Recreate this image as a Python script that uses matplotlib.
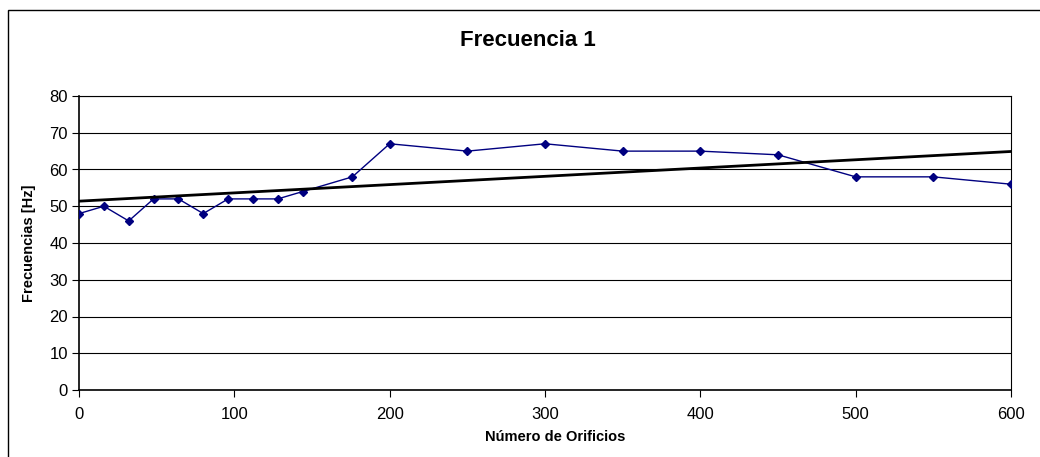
import numpy as np
import matplotlib.pyplot as plt
from matplotlib.patches import Rectangle

plt.rcParams['font.family'] = ['Liberation Sans', 'DejaVu Sans']

orificios = [0, 16, 32, 48, 64, 80, 96, 112, 128, 144, 176, 200,
             250, 300, 350, 400, 450, 500, 550, 600]
frecuencias = [48, 50, 46, 52, 52, 48, 52, 52, 52, 54, 58, 67,
               65, 67, 65, 65, 64, 58, 58, 56]
xticks = [0, 100, 200, 300, 400, 500, 600]
yticks = [0, 10, 20, 30, 40, 50, 60, 70, 80]

fig = plt.figure(figsize=(10.4, 4.57), dpi=100)
# outer chart border (Excel style)
fig.patches.append(Rectangle((8 / 1040, -0.1), 1.2, (457 - 10) / 457 + 0.1,
                             transform=fig.transFigure, fill=False,
                             edgecolor='black', linewidth=1.0))

ax = fig.add_axes([79 / 1040, 1 - 390 / 457, (1011 - 79) / 1040, (390 - 96) / 457])

ax.plot(orificios, frecuencias, color='#000080', linewidth=1.0,
        marker='D', markersize=4.5, zorder=3)

# linear trend line
coef = np.polyfit(orificios, frecuencias, 1)
xt = np.array([0, 600])
ax.plot(xt, np.polyval(coef, xt), color='black', linewidth=2.0, zorder=4)

ax.set_xlim(0, 600)
ax.set_ylim(0, 80)
ax.set_xticks(xticks)
ax.set_yticks(yticks)
ax.tick_params(direction='out', length=5, width=0.8, labelsize=12)
ax.tick_params(axis='x', pad=7)
ax.tick_params(axis='y', pad=3)
ax.yaxis.grid(True, color='black', linewidth=0.8)
ax.set_axisbelow(True)
for s in ax.spines.values():
    s.set_color('black')
    s.set_linewidth(0.8)
ax.spines['left'].set_linewidth(1.2)
ax.spines['bottom'].set_linewidth(1.2)

fig.text(555 / 1040, 1 - 437 / 457, 'Número de Orificios', ha='center', va='center',
         fontsize=10.5, fontweight='bold')
fig.text(29 / 1040, 1 - 243 / 457, 'Frecuencias [Hz]', ha='center', va='center',
         rotation=90, fontsize=10.5, fontweight='bold')
fig.text(528 / 1040, 1 - 40 / 457, 'Frecuencia 1', ha='center', va='center',
         fontsize=16, fontweight='bold')

fig.savefig('out.png', dpi=100)
